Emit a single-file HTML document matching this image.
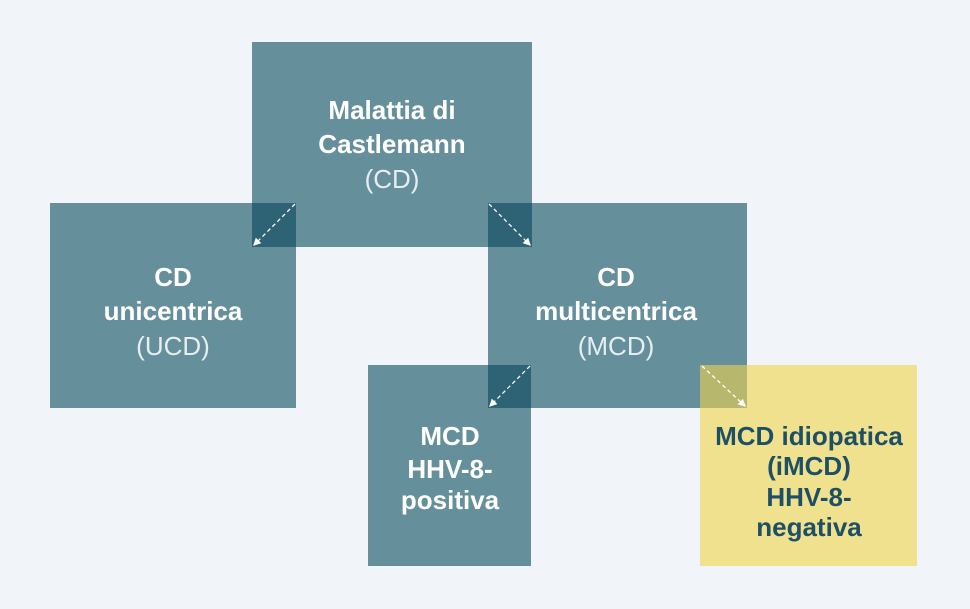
<!DOCTYPE html>
<html><head><style>
body{margin:0;background:#f1f5f9;}
svg{display:block}
text{font-family:"Liberation Sans",sans-serif;font-size:26px;text-anchor:middle}
.b{font-weight:bold;fill:#fff}
.l{fill:#e6eef1}
.y{font-weight:bold;fill:#1d4f66}
</style></head><body>
<svg width="970" height="609" viewBox="0 0 970 609">
<defs><marker id="a" markerWidth="6" markerHeight="6" refX="5" refY="3" orient="auto"><path d="M0,0 L6,3 L0,6 Z" fill="#fff"/></marker></defs>
<rect width="970" height="609" fill="#f1f5f9"/>
<rect x="252" y="42" width="280" height="205" fill="#668f9c"/>
<rect x="50" y="203" width="246" height="205" fill="#668f9c"/>
<rect x="488" y="203" width="259" height="205" fill="#668f9c"/>
<rect x="368" y="365" width="163" height="201" fill="#668f9c"/>
<rect x="700" y="365" width="217" height="201" fill="#efe18e"/>
<rect x="252" y="203" width="44" height="44" fill="#2e6275"/>
<rect x="488" y="203" width="44" height="44" fill="#2e6275"/>
<rect x="488" y="365" width="43" height="43" fill="#2e6275"/>
<rect x="700" y="365" width="47" height="43" fill="#b7b76d"/>
<g stroke="#fff" stroke-width="1.3" stroke-dasharray="4,3" marker-end="url(#a)">
<line x1="295" y1="204" x2="254" y2="245"/>
<line x1="489" y1="204" x2="530" y2="245"/>
<line x1="530" y1="366" x2="490" y2="406"/>
<line x1="702" y1="366" x2="745" y2="406"/>
</g>
<text class="b" x="392" y="119">Malattia di</text>
<text class="b" x="392" y="153">Castlemann</text>
<text class="l" x="392" y="188">(CD)</text>
<text class="b" x="173" y="286">CD</text>
<text class="b" x="173" y="320">unicentrica</text>
<text class="l" x="173" y="355">(UCD)</text>
<text class="b" x="616" y="286">CD</text>
<text class="b" x="616" y="320">multicentrica</text>
<text class="l" x="616" y="355">(MCD)</text>
<text class="b" x="450" y="445">MCD</text>
<text class="b" x="450" y="478">HHV-8-</text>
<text class="b" x="450" y="509">positiva</text>
<text class="y" x="809" y="445">MCD idiopatica</text>
<text class="y" x="809" y="475">(iMCD)</text>
<text class="y" x="809" y="506">HHV-8-</text>
<text class="y" x="809" y="536">negativa</text>
</svg>
</body></html>
